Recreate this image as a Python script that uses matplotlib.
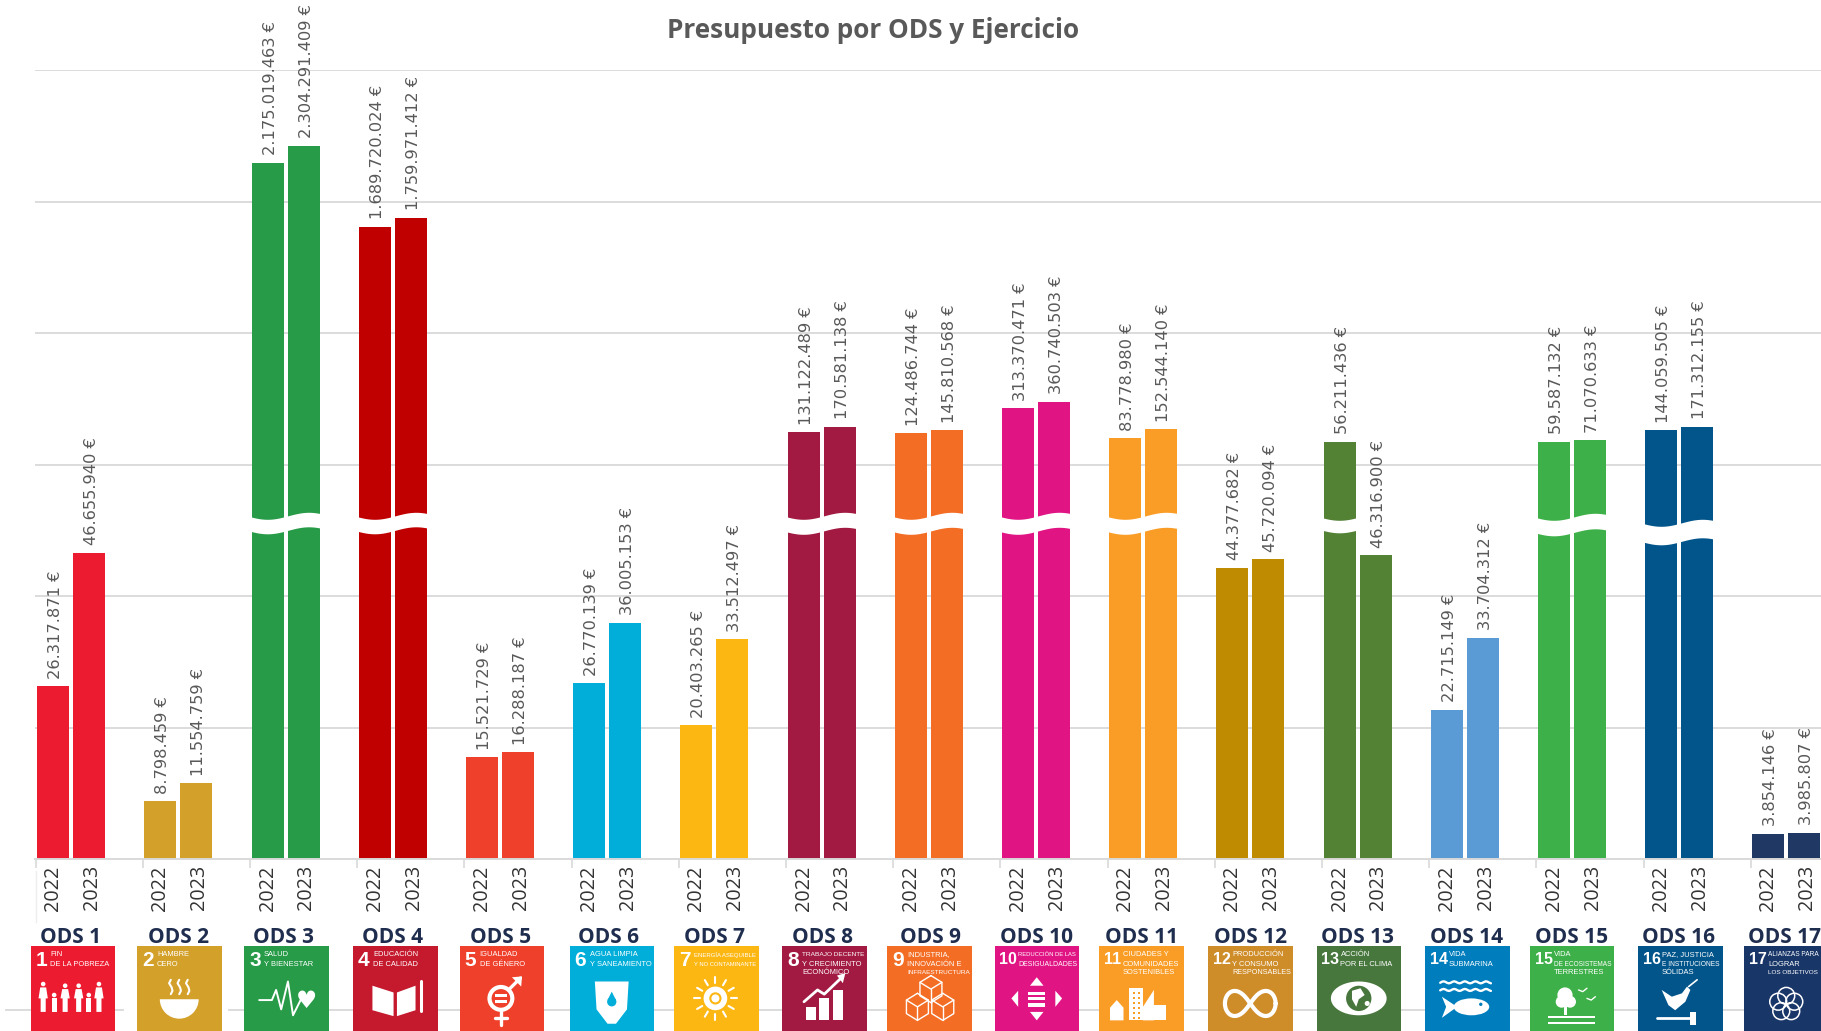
import matplotlib
matplotlib.use("Agg")
import matplotlib.pyplot as plt
import numpy as np
from matplotlib.patches import Circle, Polygon, Rectangle, Wedge, Ellipse

plt.rcParams['font.family'] = ['Open Sans', 'DejaVu Sans']

W, H = 1821, 1031

ods = ["ODS %d" % i for i in range(1, 18)]
anios = ["2022", "2023"]
v2022 = [26317871, 8798459, 2175019463, 1689720024, 15521729, 26770139, 20403265, 131122489, 124486744,
         313370471, 83778980, 44377682, 56211436, 22715149, 59587132, 144059505, 3854146]
v2023 = [46655940, 11554759, 2304291409, 1759971412, 16288187, 36005153, 33512497, 170581138, 145810568,
         360740503, 152544140, 45720094, 46316900, 33704312, 71070633, 171312155, 3985807]
color_barra = ["#ED1B2F", "#D3A029", "#279B48", "#C00000", "#EF402B", "#00AED9", "#FDB713", "#A21942", "#F36D25",
               "#E11484", "#F99D26", "#BF8B00", "#548235", "#5B9BD5", "#3EB049", "#02558B", "#1F3864"]
color_icono = ["#ED1B2F", "#D3A029", "#279B48", "#C5192D", "#EF402B", "#00AED9", "#FDB713", "#A21942", "#F36D25",
               "#E11484", "#F99D26", "#CF8D2A", "#48773E", "#007DBC", "#3EB049", "#02558B", "#183668"]
titulos = [["FIN", "DE LA POBREZA"], ["HAMBRE", "CERO"], ["SALUD", "Y BIENESTAR"], ["EDUCACIÓN", "DE CALIDAD"],
           ["IGUALDAD", "DE GÉNERO"], ["AGUA LIMPIA", "Y SANEAMIENTO"], ["ENERGÍA ASEQUIBLE", "Y NO CONTAMINANTE"],
           ["TRABAJO DECENTE", "Y CRECIMIENTO", "ECONÓMICO"], ["INDUSTRIA,", "INNOVACIÓN E", "INFRAESTRUCTURA"],
           ["REDUCCIÓN DE LAS", "DESIGUALDADES"], ["CIUDADES Y", "COMUNIDADES", "SOSTENIBLES"],
           ["PRODUCCIÓN", "Y CONSUMO", "RESPONSABLES"], ["ACCIÓN", "POR EL CLIMA"], ["VIDA", "SUBMARINA"],
           ["VIDA", "DE ECOSISTEMAS", "TERRESTRES"], ["PAZ, JUSTICIA", "E INSTITUCIONES", "SÓLIDAS"],
           ["ALIANZAS PARA", "LOGRAR", "LOS OBJETIVOS"]]

# corte del eje: grupo -> (desplazamiento, grosor, solo la primera barra)
cortes = {2: (0, 14.5, False), 3: (0, 14.5, False), 7: (0, 15, False), 8: (0, 15, False), 9: (0, 15, False),
          10: (0, 15, False), 12: (1, 12.5, True), 14: (1, 15.5, False), 15: (7, 18.5, False)}

# posicion de etiquetas e iconos en la imagen
x_ods = [71, 179, 283.5, 393, 501, 609, 715, 822, 930, 1037, 1142, 1250, 1357, 1467, 1572, 1679, 1785]
x_icono = [30.5, 137, 244, 353, 459.5, 569.5, 674, 782, 887, 994.5, 1099, 1208, 1316.5, 1425, 1529.5, 1638, 1744]
LADO = 84.5
BASE = 859

# eje roto, dos tramos lineales
CORTE = 50e6
A = 6.56e-6
B = 0.1317e-6
C = 409.6


def directa(v):
    v = np.asarray(v, dtype=float)
    return np.where(v <= CORTE, A * v, C + B * v)


def inversa(p):
    p = np.asarray(p, dtype=float)
    return np.where(p <= A * CORTE, p / A, (p - C) / B)


fig = plt.figure(figsize=(W / 100, H / 100), dpi=100, facecolor="white")
alto = BASE - 70
ax = fig.add_axes([35 / W, (H - BASE) / H, (W - 35) / W, alto / H])
ax.set_yscale("function", functions=(directa, inversa))
ax.set_ylim(0, float(inversa(alto)))
ax.set_xlim((35 - 71.2) / 107.2, (W - 71.2) / 107.2)
ax.yaxis.set_major_locator(plt.NullLocator())
ax.yaxis.set_minor_locator(plt.NullLocator())

for s in ["top", "left", "right"]:
    ax.spines[s].set_visible(False)
ax.spines["bottom"].set_color("#d9d9d9")
ax.spines["bottom"].set_linewidth(1.4)

# lineas de fondo igualmente separadas (el eje esta roto)
for f in np.arange(1, 7) / 6:
    ax.plot([0, 1], [f, f], color="#d9d9d9", lw=1.3, transform=ax.transAxes, zorder=1)

grupos = np.arange(len(ods))
ancho = 32 / 107.2
sep = 18 / 107.2
ax.bar(grupos - sep, v2022, ancho, color=color_barra, zorder=2)
ax.bar(grupos + sep, v2023, ancho, color=color_barra, zorder=2)

# etiquetas de valor
for i in grupos:
    for x, v in ((i - sep, v2022[i]), (i + sep, v2023[i])):
        txt = "{:,}".format(v).replace(",", ".") + " €"
        ax.annotate(txt, (x, v), xytext=(2.5, 7.5), textcoords="offset pixels", rotation=90, ha="center", va="bottom",
                    fontsize=11.7, family="DejaVu Sans", color="#595959", annotation_clip=False, zorder=4)

# anios en el eje x
pos = np.concatenate([grupos - 18 / 107.2, grupos + 20.8 / 107.2])
ax.set_xticks(pos, anios[0:1] * len(ods) + anios[1:] * len(ods), rotation=90, fontsize=14.2, color="#333333")
ax.tick_params(axis="x", which="major", length=0, pad=4.5)
ax.set_xticks(grupos - 0.332, minor=True)
ax.tick_params(axis="x", which="minor", length=6.5, width=1.2, color="#d9d9d9")
ax.plot([-0.332, -0.332], [-0.015, -0.08], color="#eeeeee", lw=1, transform=ax.get_xaxis_transform(), clip_on=False)

# ondas blancas del corte
for g, (d, grosor, solo) in cortes.items():
    x0 = g - sep - ancho / 2 - 0.01
    x1 = g + sep + ancho / 2 + 0.01
    t = np.linspace(0, 1, 60)
    xs = x0 + t * (x1 - x0)
    arriba = 515.8 + d + 3.5 * np.cos(2 * np.pi * (t - 0.24) / 1.18)
    abajo = arriba + grosor
    if solo:
        keep = t <= 0.52
        xs, arriba, abajo = xs[keep], arriba[keep], abajo[keep]
    ax.fill_between(xs, (BASE - arriba) / alto, (BASE - abajo) / alto, color="white", lw=0,
                    transform=ax.get_xaxis_transform(), zorder=3)

# capa en pixeles para titulo e iconos
px = fig.add_axes([0, 0, 1, 1], facecolor="none")
px.set_xlim(0, W)
px.set_ylim(H, 0)
px.axis("off")

px.text(873.5, 30.5, "Presupuesto por ODS y Ejercicio", ha="center", va="center", fontsize=18.8, fontweight="bold",
        color="#595959")
px.plot([6, 123], [1010, 1010], color="#d9d9d9", lw=1.3, zorder=1)
px.plot([229, W], [1010, 1010], color="#d9d9d9", lw=1.3, zorder=1)


class Icono:
    # dibuja en coordenadas 0-1 dentro del cuadrado
    def __init__(self, x, c):
        self.x, self.y, self.c = x, 946, c

    def p(self, u, v):
        return self.x + u * LADO, self.y + v * LADO

    def linea(self, pts, lw=1.6, color="white"):
        q = [self.p(u, v) for u, v in pts]
        px.plot([a for a, b in q], [b for a, b in q], color=color, lw=lw, zorder=6, solid_capstyle="round")

    def poli(self, pts, color="white"):
        px.add_patch(Polygon([self.p(u, v) for u, v in pts], fc=color, ec="none", zorder=6))

    def circ(self, u, v, r, fill=True, lw=1.6, color="white"):
        px.add_patch(Circle(self.p(u, v), r * LADO, fc=color if fill else "none", ec=color, lw=0 if fill else lw,
                            zorder=6))

    def rect(self, u, v, w, h, color="white"):
        px.add_patch(Rectangle(self.p(u, v), w * LADO, h * LADO, fc=color, ec="none", zorder=6))


def persona(ic, u, a):
    ic.circ(u, 0.77 - a, 0.027)
    ic.poli([(u - 0.035, 0.81 - a), (u + 0.035, 0.81 - a), (u + 0.055, 0.62), (u + 0.03, 0.62), (u + 0.03, 0.78),
             (u - 0.03, 0.78), (u - 0.03, 0.62), (u - 0.055, 0.62)])


def dibujo(n, ic):
    c = ic.c
    if n == 1:
        for u, a in zip([0.15, 0.28, 0.41, 0.57, 0.69, 0.81], [0.32, 0.19, 0.3, 0.3, 0.19, 0.32]):
            persona(ic, u, a)
    elif n == 2:
        px.add_patch(Wedge(ic.p(0.5, 0.63), 0.23 * LADO, 0, 180, fc="white", ec="none", zorder=6))
        for u in [0.4, 0.5, 0.6]:
            ic.linea([(u, 0.4), (u - 0.02, 0.44), (u + 0.01, 0.49), (u + 0.02, 0.53), (u, 0.57)], 1.5)
    elif n == 3:
        ic.linea([(0.18, 0.64), (0.33, 0.64), (0.38, 0.52), (0.44, 0.75), (0.52, 0.42), (0.58, 0.82), (0.68, 0.62)], 1.4)
        px.text(*ic.p(0.74, 0.65), "♥", color="white", fontsize=17, ha="center", va="center", family="DejaVu Sans",
                zorder=6)
    elif n == 4:
        ic.poli([(0.23, 0.47), (0.48, 0.55), (0.48, 0.83), (0.23, 0.76)])
        ic.poli([(0.52, 0.55), (0.74, 0.47), (0.74, 0.76), (0.52, 0.83)])
        ic.linea([(0.8, 0.42), (0.8, 0.77)], 2.2)
    elif n == 5:
        ic.circ(0.49, 0.62, 0.135, False, 3)
        ic.linea([(0.58, 0.52), (0.72, 0.38)], 2.4)
        ic.poli([(0.62, 0.37), (0.74, 0.36), (0.73, 0.48)])
        ic.linea([(0.49, 0.76), (0.49, 0.93)], 2.4)
        ic.linea([(0.42, 0.85), (0.56, 0.85)], 2.4)
        ic.rect(0.42, 0.57, 0.14, 0.035)
        ic.rect(0.42, 0.64, 0.14, 0.035)
    elif n == 6:
        ic.poli([(0.3, 0.42), (0.7, 0.42), (0.68, 0.75), (0.55, 0.92), (0.45, 0.92), (0.32, 0.75)])
        ic.circ(0.5, 0.66, 0.055, color=c)
        ic.poli([(0.5, 0.54), (0.55, 0.64), (0.45, 0.64)], color=c)
    elif n == 7:
        ic.circ(0.49, 0.62, 0.14)
        ic.circ(0.49, 0.62, 0.06, False, 1.5, color=c)
        for a in np.arange(0, 360, 30):
            r = np.radians(a)
            ic.linea([(0.49 + 0.18 * np.cos(r), 0.62 + 0.18 * np.sin(r)),
                      (0.49 + 0.25 * np.cos(r), 0.62 + 0.25 * np.sin(r))], 1.5)
    elif n == 8:
        for u, t in zip([0.28, 0.44, 0.6], [0.72, 0.62, 0.52]):
            ic.rect(u, t, 0.12, 0.88 - t)
        ic.linea([(0.26, 0.66), (0.42, 0.52), (0.5, 0.57), (0.72, 0.36)], 2)
        ic.poli([(0.65, 0.35), (0.75, 0.32), (0.72, 0.44)])
    elif n == 9:
        for u, v in [(0.52, 0.47), (0.36, 0.68), (0.66, 0.68)]:
            ic.linea([(u, v - 0.12), (u + 0.13, v - 0.04), (u + 0.13, v + 0.12), (u, v + 0.2), (u - 0.13, v + 0.12),
                      (u - 0.13, v - 0.04), (u, v - 0.12)], 1)
            ic.linea([(u - 0.13, v - 0.04), (u, v + 0.04), (u + 0.13, v - 0.04)], 1)
            ic.linea([(u, v + 0.04), (u, v + 0.2)], 1)
    elif n == 10:
        ic.poli([(0.5, 0.37), (0.58, 0.47), (0.42, 0.47)])
        ic.poli([(0.5, 0.88), (0.58, 0.78), (0.42, 0.78)])
        ic.poli([(0.2, 0.62), (0.28, 0.53), (0.28, 0.72)])
        ic.poli([(0.8, 0.62), (0.72, 0.53), (0.72, 0.72)])
        for v in [0.54, 0.6, 0.68]:
            ic.rect(0.4, v, 0.2, 0.04)
    elif n == 11:
        ic.rect(0.35, 0.5, 0.17, 0.38)
        ic.rect(0.55, 0.7, 0.24, 0.18)
        ic.poli([(0.52, 0.88), (0.52, 0.72), (0.65, 0.52), (0.65, 0.88)])
        ic.poli([(0.13, 0.73), (0.21, 0.64), (0.29, 0.73), (0.29, 0.88), (0.13, 0.88)])
        for u in [0.4, 0.46]:
            for v in np.arange(0.54, 0.86, 0.06):
                ic.rect(u, v, 0.025, 0.025, color=c)
    elif n == 12:
        t = np.linspace(0, 2 * np.pi, 80)
        ic.linea(list(zip(0.5 + 0.3 * np.cos(t) / (1 + np.sin(t) ** 2),
                          0.68 + 0.42 * np.sin(t) * np.cos(t) / (1 + np.sin(t) ** 2))), 3)
    elif n == 13:
        t = np.linspace(0, np.pi, 30)
        ic.poli(list(zip(0.5 - 0.33 * np.cos(t), 0.62 - 0.2 * np.sin(t))) +
                list(zip(0.5 + 0.33 * np.cos(t), 0.62 + 0.2 * np.sin(t))))
        ic.circ(0.5, 0.62, 0.15, color=c)
        ic.poli([(0.42, 0.53), (0.52, 0.5), (0.57, 0.58), (0.5, 0.63), (0.47, 0.72), (0.42, 0.63)])
        ic.circ(0.6, 0.68, 0.03)
    elif n == 14:
        for v in [0.43, 0.52]:
            t = np.linspace(0.18, 0.78, 30)
            ic.linea(list(zip(t, v + 0.012 * np.sin(t * 50))), 1.7)
        px.add_patch(Ellipse(ic.p(0.55, 0.72), 0.42 * LADO, 0.2 * LADO, fc="white", ec="none", zorder=6))
        ic.poli([(0.38, 0.72), (0.2, 0.6), (0.25, 0.72), (0.2, 0.85)])
        ic.circ(0.66, 0.69, 0.02, color=c)
    elif n == 15:
        ic.circ(0.42, 0.58, 0.09)
        ic.circ(0.38, 0.66, 0.07)
        ic.circ(0.48, 0.66, 0.07)
        ic.rect(0.41, 0.66, 0.035, 0.16)
        ic.rect(0.22, 0.83, 0.55, 0.025)
        ic.rect(0.22, 0.9, 0.55, 0.025)
        for u, v in [(0.58, 0.52), (0.68, 0.62)]:
            ic.linea([(u, v), (u + 0.05, v + 0.02), (u + 0.1, v - 0.02)], 1)
    elif n == 16:
        ic.poli([(0.28, 0.52), (0.4, 0.6), (0.52, 0.56), (0.58, 0.48), (0.62, 0.52), (0.56, 0.66), (0.44, 0.76),
                 (0.36, 0.7)])
        ic.linea([(0.6, 0.48), (0.7, 0.4)], 1.2)
        ic.linea([(0.22, 0.85), (0.66, 0.85)], 2)
        ic.rect(0.62, 0.78, 0.07, 0.15)
    else:
        for a in np.arange(0, 360, 72):
            r = np.radians(a - 90)
            ic.circ(0.5 + 0.1 * np.cos(r), 0.69 + 0.1 * np.sin(r), 0.1, False, 1.1)


rend = fig.canvas.get_renderer()

# iconos ODS
for i in grupos:
    px.text(x_ods[i], 937.5, ods[i], ha="center", va="center", fontsize=15, fontweight="bold", color="#1F2D4E",
            zorder=7)
    ic = Icono(x_icono[i], color_icono[i])
    px.add_patch(Rectangle((x_icono[i], 946), LADO, LADO, fc=color_icono[i], ec="none", zorder=5))
    num = str(i + 1)
    doble = len(num) == 2
    px.text(x_icono[i] + 5, 946 + 14, num, ha="left", va="center", fontsize=11.5 if doble else 15,
            fontweight="bold", color="white", family="Liberation Sans", zorder=6)
    xt = x_icono[i] + (24 if doble else 20)
    for k, lin in enumerate(titulos[i]):
        t = px.text(xt, 946 + 9 + k * 9, lin, ha="left", va="center", fontsize=5.4, color="white",
                    family="Liberation Sans", zorder=6)
        # sin fuente estrecha: reducir hasta que quepa en el cuadrado
        libre = min(x_icono[i] + LADO - 2, W - 2) - xt
        w = t.get_window_extent(rend).width
        if w > libre:
            t.set_fontsize(5.4 * libre / w)
    dibujo(i + 1, ic)

fig.savefig("out.png", dpi=100)
